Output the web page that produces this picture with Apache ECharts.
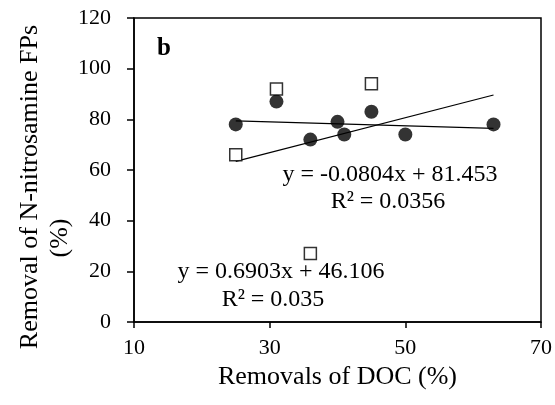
<!DOCTYPE html>
<html>
<head>
<meta charset="utf-8">
<script src="https://cdn.jsdelivr.net/npm/echarts@6/dist/echarts.min.js"></script>
<style>
html,body{margin:0;padding:0;background:#fff;}
#c{width:555px;height:405px;}
</style>
</head>
<body>
<div id="c"></div>
<script>
// Filled circles
const circleX = [25, 31, 36, 40, 41, 45, 50, 63];
const circleY = [78, 87, 72, 79, 74, 83, 74, 78];
// Open squares
const squareX = [25, 31, 36, 45];
const squareY = [66, 92, 27, 94];
const trendX = [25, 63];
const trendCircleY = [79.4, 76.4];
const trendSquareY = [63.4, 89.6];
// Texts
const xTicks = [10, 30, 50, 70];
const yTicks = [0, 20, 40, 60, 80, 100, 120];
const xTitle = 'Removals of DOC (%)';
const yTitle1 = 'Removal of N-nitrosamine FPs';
const yTitle2 = '(%)';
const panelLabel = 'b';
const eqCircle = ['y = -0.0804x + 81.453', 'R² = 0.0356'];
const eqSquare = ['y = 0.6903x + 46.106', 'R² = 0.035'];

const FONT = "'Liberation Serif','Times New Roman',serif";
const pair = (xs, ys) => xs.map((x, i) => [x, ys[i]]);

const chart = echarts.init(document.getElementById('c'), null, {renderer: 'canvas'});
chart.setOption({
  animation: false,
  backgroundColor: '#fff',
  grid: {left: 134, right: 14, top: 18, bottom: 83, show: true, borderColor: '#000', borderWidth: 1.5},
  xAxis: {
    type: 'value', min: xTicks[0], max: xTicks[xTicks.length - 1], interval: 20,
    name: xTitle, nameLocation: 'middle', nameGap: 41,
    nameTextStyle: {fontFamily: FONT, fontSize: 26, color: '#000'},
    axisLine: {lineStyle: {color: '#000', width: 1.5}},
    axisTick: {length: 6, lineStyle: {color: '#000', width: 1.5}},
    axisLabel: {fontFamily: FONT, fontSize: 22, color: '#000', margin: 15},
    splitLine: {show: false}
  },
  yAxis: {
    type: 'value', min: yTicks[0], max: yTicks[yTicks.length - 1], interval: 20,
    axisLine: {show: true, lineStyle: {color: '#000', width: 1.5}},
    axisTick: {show: true, length: 7, lineStyle: {color: '#000', width: 1.5}},
    axisLabel: {fontFamily: FONT, fontSize: 22, color: '#000', margin: 23},
    splitLine: {show: false}
  },
  graphic: [
    {type: 'text', left: 157, top: 36, style: {text: panelLabel, font: "bold 25px " + FONT, fill: '#000'}},
    {type: 'text', x: 390, y: 175, style: {text: eqCircle[0], font: "24px " + FONT, fill: '#000', align: 'center', verticalAlign: 'middle'}},
    {type: 'text', x: 388, y: 202, style: {text: eqCircle[1], font: "24px " + FONT, fill: '#000', align: 'center', verticalAlign: 'middle'}},
    {type: 'text', x: 281, y: 272, style: {text: eqSquare[0], font: "24px " + FONT, fill: '#000', align: 'center', verticalAlign: 'middle'}},
    {type: 'text', x: 273, y: 300, style: {text: eqSquare[1], font: "24px " + FONT, fill: '#000', align: 'center', verticalAlign: 'middle'}},
    {type: 'text', x: 30, y: 187, rotation: Math.PI / 2, style: {text: yTitle1, font: "26px " + FONT, fill: '#000', align: 'center', verticalAlign: 'middle'}},
    {type: 'text', x: 60, y: 238, rotation: Math.PI / 2, style: {text: yTitle2, font: "26px " + FONT, fill: '#000', align: 'center', verticalAlign: 'middle'}}
  ],
  series: [
    {type: 'line', data: pair(trendX, trendSquareY), symbol: 'none', lineStyle: {color: '#000', width: 1.2}, z: 1},
    {type: 'line', data: pair(trendX, trendCircleY), symbol: 'none', lineStyle: {color: '#000', width: 1.2}, z: 1},
    {type: 'scatter', data: pair(circleX, circleY), symbol: 'circle', symbolSize: 14, itemStyle: {color: '#000'}, z: 3},
    {type: 'scatter', data: pair(squareX, squareY), symbol: 'rect', symbolSize: 12, itemStyle: {color: '#fff', borderColor: '#000', borderWidth: 1.5}, z: 3}
  ]
});
</script>
</body>
</html>
